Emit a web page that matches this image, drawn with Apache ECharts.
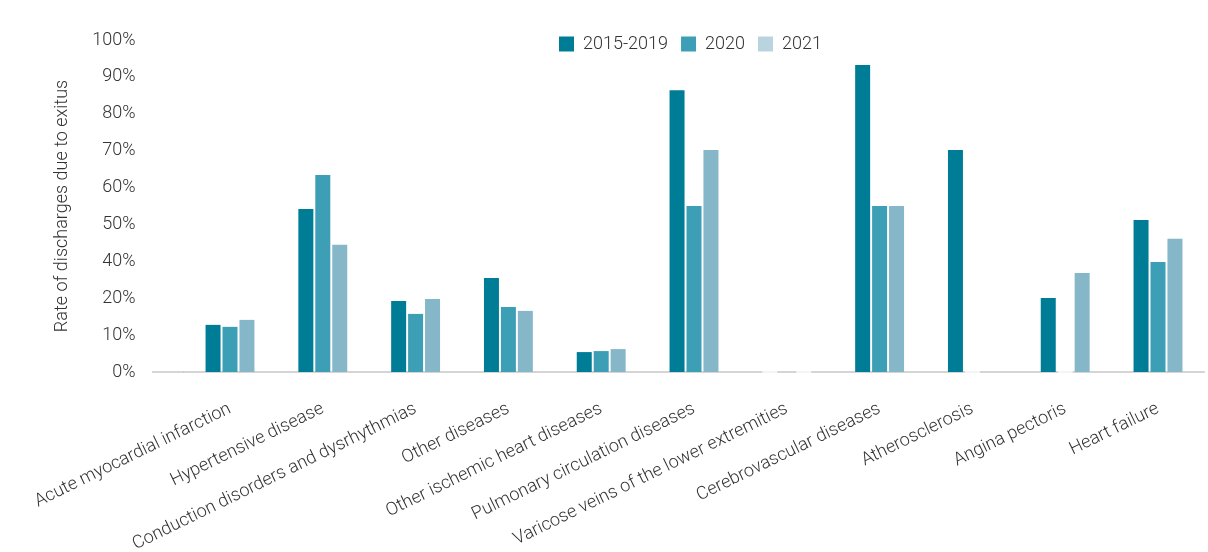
<!DOCTYPE html>
<html>
<head>
<meta charset="utf-8">
<script src="https://cdn.jsdelivr.net/npm/echarts@6/dist/echarts.min.js"></script>
<style>
  html, body { margin: 0; padding: 0; background: #fff; }
  #chart { width: 1208px; height: 552px; }
</style>
</head>
<body>
<div id="chart"></div>
<script>
// Diagnostic groups shown along the x axis
const categories = [
  'Acute myocardial infarction',
  'Hypertensive disease',
  'Conduction disorders and dysrhythmias',
  'Other diseases',
  'Other ischemic heart diseases',
  'Pulmonary circulation diseases',
  'Varicose veins of the lower extremities',
  'Cerebrovascular diseases',
  'Atherosclerosis',
  'Angina pectoris',
  'Heart failure'
];

// Share of discharges due to exitus (%); null = no value reported
const period2015to2019 = [14.2, 49.1, 21.4, 28.3, 6.0, 84.9, 0, 92.5, 66.9, 22.3, 45.8];
const year2020         = [13.6, 59.3, 17.5, 19.6, 6.3, 50.0, null, 50.0, 0, 0, 33.1];
const year2021         = [15.7, 38.3, 22.0, 18.4, 6.9, 66.9, 0, 50.0, null, 29.8, 40.1];

const seriesNames = ['2015-2019', '2020', '2021'];

// Labels printed on the y axis, bottom to top
const yTickLabels = ['0%', '10%', '20%', '40%', '50%', '60%', '70%', '80%', '90%', '100%'];

const barColors = ['#007D96', '#3D9FB6', '#86B7C8'];
const legendColors = ['#007D96', '#3D9FB6', '#BAD4DF'];

const FONT = 'Roboto';
const TEXT = '#333333';

// Zero values are drawn as a thin white stroke over the baseline
function toItems(values) {
  return values.map(v => {
    if (v === 0) {
      return { value: 0, itemStyle: { borderColor: '#ffffff', borderWidth: 1.5 } };
    }
    return v;
  });
}

const chart = echarts.init(document.getElementById('chart'), null, { renderer: 'canvas' });

const option = {
  backgroundColor: '#ffffff',
  animation: false,
  textStyle: { fontFamily: FONT },
  legend: {
    top: 30,
    left: 554,
    itemWidth: 15,
    itemHeight: 15,
    itemGap: 13,
    icon: 'rect',
    textStyle: { fontFamily: FONT, fontSize: 18, fontWeight: 300, color: TEXT, padding: [0, 0, 0, 4] },
    data: seriesNames.map((n, i) => ({ name: n, itemStyle: { color: legendColors[i] } }))
  },
  grid: {
    left: 183.6,
    right: 3.6,
    top: 40,
    bottom: 180,
    containLabel: false,
    outerBoundsMode: 'none'
  },
  xAxis: {
    type: 'category',
    data: categories,
    axisLine: { show: true, lineStyle: { color: '#c8c8c8', width: 1.5 } },
    axisTick: { show: false },
    axisLabel: {
      interval: 0,
      rotate: 26,
      margin: 36,
      fontFamily: FONT,
      fontSize: 18,
      fontWeight: 300,
      color: TEXT
    },
    splitLine: { show: false }
  },
  yAxis: [
    {
      // value scale used by the bars
      type: 'value',
      min: 0,
      max: 100,
      axisLine: { show: false },
      axisTick: { show: false },
      axisLabel: { show: false },
      splitLine: { show: false }
    },
    {
      // label scale: ten evenly spaced tick labels
      type: 'value',
      position: 'left',
      min: 0,
      max: 9,
      interval: 1,
      name: 'Rate of discharges due to exitus',
      nameLocation: 'middle',
      nameGap: 112,
      nameTextStyle: { fontFamily: FONT, fontSize: 18, fontWeight: 300, color: TEXT },
      axisLine: { show: false },
      axisTick: { show: false },
      axisLabel: {
        margin: 48,
        fontFamily: FONT,
        fontSize: 18,
        fontWeight: 300,
        color: TEXT,
        formatter: (v) => yTickLabels[Math.round(v)]
      },
      splitLine: { show: false }
    }
  ],
  series: [period2015to2019, year2020, year2021].map((vals, i) => ({
    name: seriesNames[i],
    type: 'bar',
    yAxisIndex: 0,
    barWidth: 15,
    barGap: '13%',
    itemStyle: { color: barColors[i] },
    data: toItems(vals)
  }))
};

chart.setOption(option);

// Extend the baseline to the left of the first category band
const y0 = chart.convertToPixel({ yAxisIndex: 0 }, 0);
chart.setOption({
  graphic: [{
    type: 'line',
    z: -1,
    shape: { x1: 152, y1: y0, x2: 184, y2: y0 },
    style: { stroke: '#c8c8c8', lineWidth: 1.5 }
  }]
});
</script>
</body>
</html>
